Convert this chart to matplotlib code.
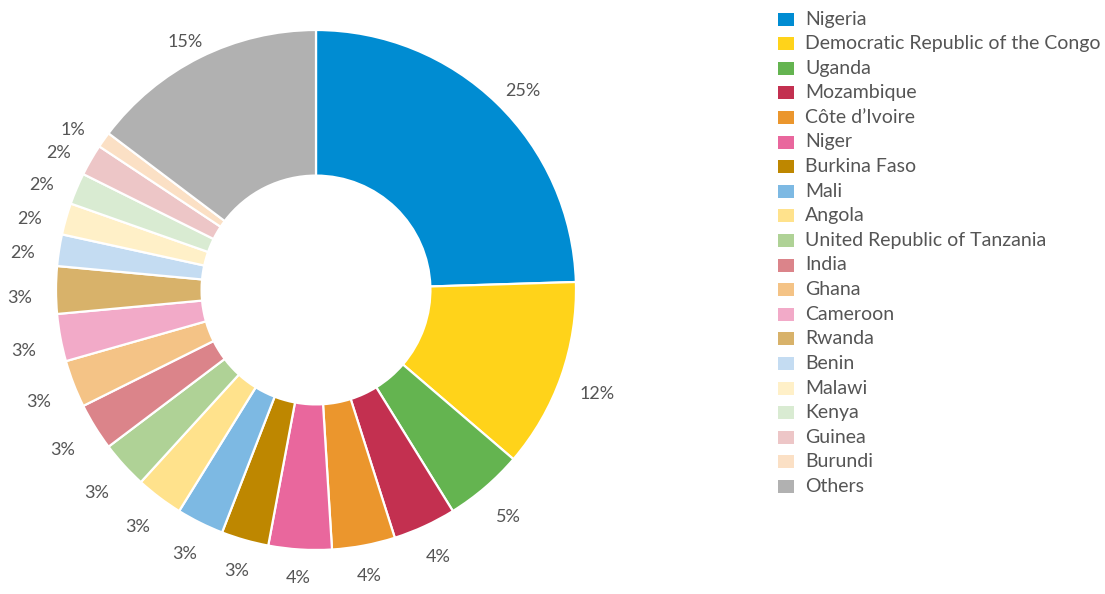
import numpy as np
import matplotlib.pyplot as plt
from matplotlib.patches import Rectangle

countries = ["Nigeria", "Democratic Republic of the Congo", "Uganda", "Mozambique",
             "Côte d’Ivoire", "Niger", "Burkina Faso", "Mali", "Angola",
             "United Republic of Tanzania", "India", "Ghana", "Cameroon", "Rwanda",
             "Benin", "Malawi", "Kenya", "Guinea", "Burundi", "Others"]
shares = [25, 12, 5, 4, 4, 4, 3, 3, 3, 3, 3, 3, 3, 3, 2, 2, 2, 2, 1, 15]
colors = ["#008cd2", "#ffd31a", "#64b450", "#c33050", "#eb962d", "#e9679d",
          "#be8700", "#7db9e3", "#ffe28c", "#afd296", "#db848a", "#f4c386",
          "#f2aac8", "#d8b26a", "#c4dcf2", "#fff0c8", "#d9ebd2", "#edc6c7",
          "#fbe0c5", "#b1b1b1"]

plt.rcParams['font.family'] = ['Lato', 'DejaVu Sans']
txt = "#555555"

W, H = 1105, 594
fig = plt.figure(figsize=(W / 100, H / 100), dpi=100)
ax = fig.add_axes([0, 0, 1, 1])

s = 260.0  # ring radius in px
wedges, _ = ax.pie(shares, colors=colors, startangle=90, counterclock=False,
                   radius=1.0, wedgeprops=dict(width=0.56, edgecolor="white", linewidth=1.6))

# percentage labels outside the ring, box edge ~20px off the ring
for w, v in zip(wedges, shares):
    ang = np.deg2rad((w.theta1 + w.theta2) / 2)
    c, sn = np.cos(ang), np.sin(ang)
    r = (s + 20 + 16 * abs(c) + 7.5 * abs(sn)) / s
    ax.text(r * c, r * sn - (0.03 + 0.03 * sn), f"{v}%", ha="center", va="center",
            fontsize=13, color=txt)

# centre at (316, 290) px
ax.set_xlim(-316 / s, (W - 316) / s)
ax.set_ylim(-(H - 290) / s, 290 / s)
ax.set_aspect("auto")
ax.axis("off")

# legend, drawn by hand: one row every 24.6 px
for i, (name, c) in enumerate(zip(countries, colors)):
    yc = 19 + 24.6 * i
    fig.add_artist(Rectangle((778 / W, 1 - (yc + 6.5) / H), 16 / W, 13 / H,
                             facecolor=c, edgecolor="none", transform=fig.transFigure))
    fig.text(805 / W, 1 - yc / H, name, ha="left", va="center", fontsize=14, color=txt)

fig.savefig("out.png", dpi=100)
